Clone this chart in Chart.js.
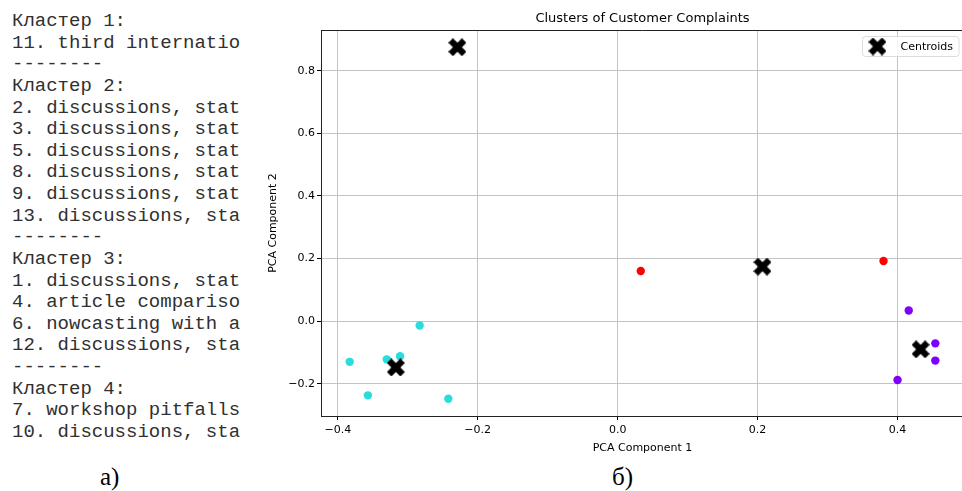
<!DOCTYPE html>
<html>
<head>
<meta charset="utf-8">
<script src="https://cdn.jsdelivr.net/npm/chart.js@4.4.1/dist/chart.umd.min.js"></script>
<style>
  html, body { margin:0; padding:0; width:962px; height:491px; overflow:hidden; background:#fff; }
  #listing { position:absolute; left:12px; top:11px; margin:0; font-family:"Liberation Mono", monospace; font-size:19px; line-height:21.63px; color:#303030; white-space:pre; }
  .cap { position:absolute; font-family:"Liberation Serif", serif; font-size:25px; color:#000; top:463px; }
  #chartBox { position:absolute; left:260px; top:0; width:714px; height:470px; }
</style>
</head>
<body>
<pre id="listing"></pre>
<div class="cap" style="left:100px">а)</div>
<div class="cap" style="left:612px">б)</div>
<div id="chartBox"><canvas id="c" width="714" height="470"></canvas></div>
<script>
// ---- data ----
const listingLines = [
  "Кластер 1:",
  "11. third internatio",
  "--------",
  "Кластер 2:",
  "2. discussions, stat",
  "3. discussions, stat",
  "5. discussions, stat",
  "8. discussions, stat",
  "9. discussions, stat",
  "13. discussions, sta",
  "--------",
  "Кластер 3:",
  "1. discussions, stat",
  "4. article compariso",
  "6. nowcasting with a",
  "12. discussions, sta",
  "--------",
  "Кластер 4:",
  "7. workshop pitfalls",
  "10. discussions, sta"
];

const cluster0X = [0.416, 0.454, 0.454, 0.400];
const cluster0Y = [0.034, -0.071, -0.126, -0.188];
const cluster1X = [-0.383, -0.357, -0.330, -0.311, -0.283, -0.242];
const cluster1Y = [-0.130, -0.237, -0.122, -0.112, -0.014, -0.248];
const cluster2X = [-0.229];
const cluster2Y = [0.875];
const cluster3X = [0.033, 0.380];
const cluster3Y = [0.160, 0.192];
const centroidX = [-0.317, 0.207, 0.433, -0.229];
const centroidY = [-0.148, 0.174, -0.090, 0.875];

const xTicks = [-0.4, -0.2, 0.0, 0.2, 0.4];
const yTicks = [-0.2, 0.0, 0.2, 0.4, 0.6, 0.8];

const chartTitle = "Clusters of Customer Complaints";
const xLabel = "PCA Component 1";
const yLabel = "PCA Component 2";
const legendLabel = "Centroids";

document.getElementById('listing').textContent = listingLines.join("\n");

function pts(xs, ys){ return xs.map((x,i)=>({x:x, y:ys[i]})); }

function makeX(size, color){
  const c = document.createElement('canvas');
  c.width = size; c.height = size;
  const g = c.getContext('2d');
  g.translate(size/2, size/2);
  g.rotate(Math.PI/4);
  const s = size/Math.SQRT2;
  const a = s*0.75, t = s*0.25;
  g.fillStyle = color;
  g.fillRect(-a, -t, 2*a, 2*t);
  g.fillRect(-t, -a, 2*t, 2*a);
  return c;
}
const xMarker = makeX(18, '#000');

function fmt(v){
  const s = Math.abs(v).toFixed(1);
  return (v < -1e-9 ? '\u2212' : '') + s;
}

const topSpine = {
  id:'topSpine',
  afterDatasetsDraw(chart){
    const {ctx, chartArea:a} = chart;
    ctx.save();
    ctx.strokeStyle = '#222';
    ctx.lineWidth = 1;
    ctx.beginPath();
    ctx.moveTo(a.left, a.top + 0.5);
    ctx.lineTo(a.right, a.top + 0.5);
    ctx.stroke();
    ctx.restore();
  }
};

const boxLegend = {
  id:'boxLegend',
  afterDraw(chart){
    const {ctx, chartArea:a} = chart;
    ctx.save();
    ctx.font = '11px "DejaVu Sans"';
    const tw = ctx.measureText(legendLabel).width;
    const right = a.right - 5;
    const top = a.top + 6.5;
    const h = 20;
    const textEnd = right - 6;
    const textStart = textEnd - tw;
    const mx = textStart - 23;
    const left = mx - 15;
    const r = 3;
    ctx.beginPath();
    ctx.moveTo(left + r, top);
    ctx.lineTo(right - r, top);
    ctx.quadraticCurveTo(right, top, right, top + r);
    ctx.lineTo(right, top + h - r);
    ctx.quadraticCurveTo(right, top + h, right - r, top + h);
    ctx.lineTo(left + r, top + h);
    ctx.quadraticCurveTo(left, top + h, left, top + h - r);
    ctx.lineTo(left, top + r);
    ctx.quadraticCurveTo(left, top, left + r, top);
    ctx.closePath();
    ctx.fillStyle = 'rgba(255,255,255,0.85)';
    ctx.fill();
    ctx.strokeStyle = '#dcdcdc';
    ctx.lineWidth = 1;
    ctx.stroke();
    ctx.drawImage(xMarker, mx - xMarker.width/2, top + h/2 - xMarker.height/2);
    ctx.fillStyle = '#000';
    ctx.textBaseline = 'middle';
    ctx.textAlign = 'left';
    ctx.fillText(legendLabel, textStart, top + h/2 + 0.5);
    ctx.restore();
  }
};

const gridColor = '#c4c4c4';

new Chart(document.getElementById('c'), {
  type:'scatter',
  data:{
    datasets:[
      { label:legendLabel, data:pts(centroidX, centroidY), pointStyle:xMarker, pointRadius:9, order:0 },
      { label:'c0', data:pts(cluster0X, cluster0Y), backgroundColor:'#8000ff', pointRadius:4.2, borderWidth:0, order:1 },
      { label:'c1', data:pts(cluster1X, cluster1Y), backgroundColor:'#2adddd', pointRadius:4.2, borderWidth:0, order:1 },
      { label:'c2', data:pts(cluster2X, cluster2Y), backgroundColor:'#d4dd80', pointRadius:4.2, borderWidth:0, order:1 },
      { label:'c3', data:pts(cluster3X, cluster3Y), backgroundColor:'#ff0000', pointRadius:4.2, borderWidth:0, order:1 }
    ]
  },
  options:{
    responsive:false,
    animation:false,
    events:[],
    devicePixelRatio:1,
    layout:{ padding:0 },
    plugins:{
      legend:{ display:false },
      tooltip:{ enabled:false },
      title:{
        display:true, text:chartTitle, fullSize:false, color:'#000',
        font:{ family:'DejaVu Sans', size:13, weight:'normal', lineHeight:1.2 },
        padding:{ top:11, bottom:3.4 }
      }
    },
    scales:{
      x:{
        type:'linear', min:-0.424, max:0.495,
        afterFit(s){ s.height = 54; s.paddingLeft = 0; s.paddingRight = 0; },
        afterBuildTicks(s){ s.ticks = xTicks.map(v=>({value:v})); },
        ticks:{ callback:(v)=>fmt(v), color:'#000', font:{ family:'DejaVu Sans', size:11 }, padding:4, maxRotation:0, autoSkip:false },
        grid:{ color:gridColor, lineWidth:1, tickLength:4, tickColor:'#000' },
        border:{ display:true, color:'#222', width:1 },
        title:{ display:true, text:xLabel, color:'#000', font:{ family:'DejaVu Sans', size:11 }, padding:{ top:15, bottom:15 } }
      },
      y:{
        type:'linear', min:-0.303, max:0.930,
        afterFit(s){ s.width = 61; s.paddingTop = 0; s.paddingBottom = 0; },
        afterBuildTicks(s){ s.ticks = yTicks.map(v=>({value:v})); },
        ticks:{ callback:(v)=>fmt(v), color:'#000', font:{ family:'DejaVu Sans', size:11 }, padding:2, autoSkip:false },
        grid:{ color:gridColor, lineWidth:1, tickLength:4, tickColor:'#000' },
        border:{ display:true, color:'#222', width:1 },
        title:{ display:true, text:yLabel, color:'#000', font:{ family:'DejaVu Sans', size:11 }, padding:{ top:7, bottom:7 } }
      }
    }
  },
  plugins:[topSpine, boxLegend]
});
</script>
</body>
</html>
